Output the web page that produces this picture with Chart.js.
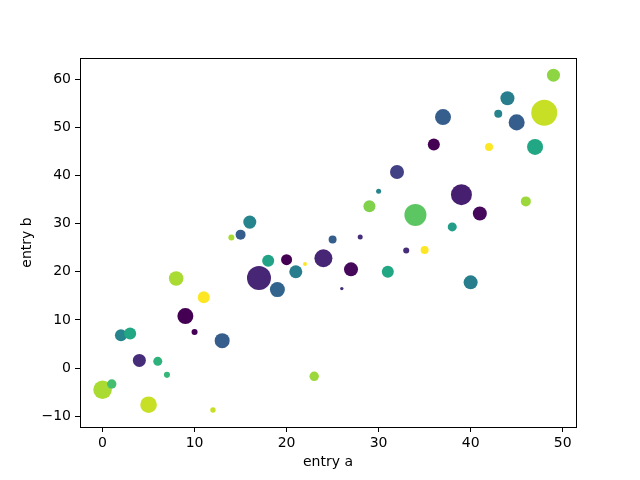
<!DOCTYPE html>
<html>
<head>
<meta charset="utf-8">
<script src="https://cdn.jsdelivr.net/npm/chart.js@4/dist/chart.umd.min.js"></script>
<style>
    html, body { margin: 0; padding: 0; background: #fff; }
    canvas { display: block; }
</style>
</head>
<body>
<canvas id="scatterChart" width="640" height="480"></canvas>
<script>
// ====== DATA ======
const entryA = [
    0, 1, 2, 3, 4, 5, 6, 7, 8, 9,
    10, 11, 12, 13, 14, 15, 16, 17, 18, 19,
    20, 21, 22, 23, 24, 25, 26, 27, 28, 29,
    30, 31, 32, 33, 34, 35, 36, 37, 38, 39,
    40, 41, 42, 43, 44, 45, 46, 47, 48, 49,
]
const entryB = [
    -4.5, -3.3, 6.8, 7.2, 1.6, -7.6, 1.4, -1.4, 18.6, 10.8,
    7.5, 14.7, -8.7, 5.7, 27.1, 27.7, 30.3, 18.7, 22.3, 16.3,
    22.5, 20.0, 21.6, -1.7, 22.8, 26.7, 16.5, 20.5, 27.2, 33.6,
    36.7, 20.0, 40.7, 24.4, 31.8, 24.5, 46.4, 52.1, 29.3, 36.0,
    17.8, 32.1, 45.9, 52.8, 56.0, 51.0, 34.6, 45.9, 53.0, 60.8,
]
// colour value (viridis)
const entryC = [
    42, 34, 22, 29, 7, 44, 31, 32, 42, 1,
    1, 48, 44, 15, 42, 15, 22, 6, 28, 16,
    1, 21, 48, 41, 6, 15, 7, 2, 7, 39,
    22, 29, 10, 7, 36, 48, 1, 15, 27, 5,
    21, 2, 48, 22, 21, 15, 41, 29, 44, 40,
]
// marker area (points^2)
const entryD = [
    179, 46, 75, 75, 88, 143, 42, 19, 110, 133,
    19, 75, 15, 117, 19, 52, 88, 299, 75, 117,
    63, 88, 8, 46, 168, 33, 6, 102, 13, 75,
    13, 75, 102, 19, 251, 33, 75, 133, 42, 229,
    102, 102, 33, 33, 102, 133, 52, 133, 350, 88,
]
const xTicks = [0, 10, 20, 30, 40, 50]
const yTicks = [-10, 0, 10, 20, 30, 40, 50, 60]

// ====== VIRIDIS ======
const viridisStops = [
    [68, 1, 84], [72, 36, 117], [65, 68, 135], [53, 95, 141],
    [42, 120, 142], [33, 145, 140], [34, 168, 132], [68, 191, 112],
    [122, 209, 81], [189, 223, 38], [253, 231, 37],
]
const viridis = (t) => {
    const p = Math.min(Math.max(t, 0), 1) * (viridisStops.length - 1)
    const i = Math.min(Math.floor(p), viridisStops.length - 2)
    const f = p - i
    const a = viridisStops[i]
    const b = viridisStops[i + 1]
    const c = a.map((v, k) => Math.round(v + (b[k] - v) * f))
    return `rgb(${c[0]},${c[1]},${c[2]})`
}

const cMin = Math.min(...entryC)
const cMax = Math.max(...entryC)
const colors = entryC.map((c) => viridis((c - cMin) / (cMax - cMin)))
// matplotlib: s in pt^2, dpi 100
const radii = entryD.map((d) => (Math.sqrt(d) / 2) * (100 / 72))

// frame around the axes (top/right spines)
const framePlugin = {
    id: 'frame',
    afterDraw(chart) {
        const { ctx, chartArea: a } = chart
        ctx.save()
        ctx.strokeStyle = '#000'
        ctx.lineWidth = 1
        ctx.strokeRect(a.left + 0.5, a.top + 0.5, a.right - a.left, a.bottom - a.top)
        ctx.restore()
    },
}

const tickFont = { family: 'DejaVu Sans', size: 14 }

const ctx = document.getElementById('scatterChart').getContext('2d')
const scatterChart = new Chart(ctx, {
    type: 'scatter',
    data: {
        datasets: [
            {
                data: entryA.map((a, i) => ({ x: a, y: entryB[i] })),
                backgroundColor: colors,
                borderColor: colors,
                borderWidth: 0,
                pointRadius: radii,
                pointHoverRadius: radii,
            },
        ],
    },
    plugins: [framePlugin],
    options: {
        responsive: false,
        animation: false,
        layout: { padding: { left: 0, right: 64, top: 58, bottom: 0 } },
        plugins: {
            legend: { display: false },
            tooltip: { enabled: false },
        },
        scales: {
            x: {
                type: 'linear',
                min: -2.45,
                max: 51.45,
                afterBuildTicks: (s) => { s.ticks = xTicks.map((v) => ({ value: v })) },
                afterFit: (s) => { s.height = 53 },
                border: { display: true, color: '#000' },
                grid: { drawOnChartArea: false, drawTicks: true, tickLength: 5, color: '#000' },
                ticks: { color: '#000', font: tickFont, padding: 3, maxRotation: 0 },
                title: {
                    display: true,
                    text: 'entry a',
                    color: '#000',
                    font: tickFont,
                    padding: { top: 0, bottom: 9 },
                },
            },
            y: {
                type: 'linear',
                min: -12.22,
                max: 64.36,
                afterBuildTicks: (s) => { s.ticks = yTicks.map((v) => ({ value: v })) },
                afterFit: (s) => { s.width = 80 },
                border: { display: true, color: '#000' },
                grid: { drawOnChartArea: false, drawTicks: true, tickLength: 5, color: '#000' },
                ticks: {
                    color: '#000',
                    font: tickFont,
                    padding: 4,
                    callback: (v) => (v < 0 ? '\u2212' + Math.abs(v) : v),
                },
                title: {
                    display: true,
                    text: 'entry b',
                    color: '#000',
                    font: tickFont,
                    padding: { top: 19, bottom: 0 },
                },
            },
        },
    },
})
</script>
</body>
</html>
